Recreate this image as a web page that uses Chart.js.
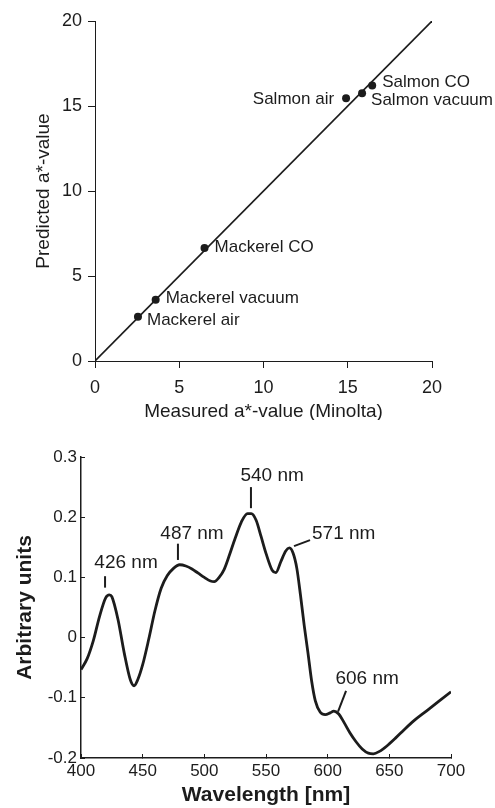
<!DOCTYPE html>
<html>
<head>
<meta charset="utf-8">
<script src="https://cdn.jsdelivr.net/npm/chart.js@4.4.1/dist/chart.umd.min.js"></script>
<style>
body { margin: 0; background: #fff; }
canvas { position: absolute; left: 0; }
#colourChart { top: 0; }
#spectrumChart { top: 420px; }
</style>
</head>
<body>
<canvas id="colourChart" width="495" height="420"></canvas>
<canvas id="spectrumChart" width="495" height="388"></canvas>
<script>
// top chart: measured vs predicted a*-value
var sampleNames = ['Mackerel air', 'Mackerel vacuum', 'Mackerel CO', 'Salmon air', 'Salmon vacuum', 'Salmon CO'];
var measuredA = [2.55, 3.6, 6.5, 14.9, 15.85, 16.45];
var predictedA = [2.6, 3.6, 6.65, 15.45, 15.75, 16.2];
var fitLineX = [0, 20];
var fitLineY = [0, 20];

// bottom chart: spectrum
var wavelength = [400, 405, 410, 415, 420, 423, 425, 430, 435, 440, 443, 446, 450, 455, 460, 465, 470, 475, 480, 485,
  490, 495, 500, 505, 508, 512, 516, 520, 525, 530, 535, 538, 542, 546, 550, 555, 558, 562, 566, 569,
  572, 575, 578, 581, 584, 587, 590, 594, 598, 602, 605, 609, 613, 618, 623, 628, 633, 637, 642, 648,
  655, 662, 670, 680, 690, 700];
var signal = [-0.053, -0.035, -0.005, 0.035, 0.066, 0.071, 0.068, 0.03, -0.025, -0.07, -0.08, -0.07, -0.045, -0.002, 0.045, 0.082, 0.103, 0.115, 0.121, 0.119,
  0.114, 0.107, 0.1, 0.094, 0.093, 0.1, 0.113, 0.135, 0.165, 0.192, 0.206, 0.206, 0.195, 0.168, 0.14, 0.112, 0.108, 0.126, 0.144, 0.149,
  0.14, 0.115, 0.07, 0.02, -0.025, -0.072, -0.105, -0.124, -0.128, -0.125, -0.122, -0.127, -0.14, -0.158, -0.173, -0.185, -0.192, -0.193, -0.189, -0.18,
  -0.167, -0.153, -0.138, -0.122, -0.106, -0.09];
var peakNames = ['426 nm', '487 nm', '540 nm', '571 nm', '606 nm'];

var ink = '#1c1c1c';
var fontFamily = "'Liberation Sans', Arial, sans-serif";

// offsets of the sample names from their points (px)
var nameOffsets = [
  { dx: 9, dy: 4, align: 'left' },
  { dx: 10, dy: -1, align: 'left' },
  { dx: 10, dy: -1, align: 'left' },
  { dx: -12, dy: 1, align: 'right' },
  { dx: 9, dy: 7, align: 'left' },
  { dx: 10, dy: -3, align: 'left' }
];

var pointNames = {
  id: 'pointNames',
  afterDatasetsDraw: function (chart) {
    var ctx = chart.ctx;
    var meta = chart.getDatasetMeta(1);
    ctx.save();
    ctx.fillStyle = ink;
    ctx.font = '17px ' + fontFamily;
    ctx.textBaseline = 'middle';
    meta.data.forEach(function (pt, i) {
      var o = nameOffsets[i];
      ctx.textAlign = o.align;
      ctx.fillText(sampleNames[i], pt.x + o.dx, pt.y + o.dy);
    });
    ctx.restore();
  }
};

// peak markers placed in data units: text position and the little pointer line
var peakMarks = [
  { tx: 436.5, ty: 0.124, align: 'center', line: [419.5, 0.102, 419.5, 0.083] },
  { tx: 490, ty: 0.172, align: 'center', line: [478.6, 0.156, 478.6, 0.129] },
  { tx: 555, ty: 0.268, align: 'center', line: [537.8, 0.25, 537.8, 0.215] },
  { tx: 587.3, ty: 0.172, align: 'left', line: [585.7, 0.162, 572.7, 0.152] },
  { tx: 632, ty: -0.069, align: 'center', line: [614.9, -0.0886, 608.4, -0.123] }
];

var peakLabels = {
  id: 'peakLabels',
  afterDatasetsDraw: function (chart) {
    var ctx = chart.ctx, sx = chart.scales.x, sy = chart.scales.y;
    ctx.save();
    ctx.fillStyle = ink;
    ctx.strokeStyle = ink;
    ctx.lineWidth = 2;
    ctx.font = '19px ' + fontFamily;
    ctx.textBaseline = 'middle';
    peakMarks.forEach(function (m, i) {
      ctx.beginPath();
      ctx.moveTo(sx.getPixelForValue(m.line[0]), sy.getPixelForValue(m.line[1]));
      ctx.lineTo(sx.getPixelForValue(m.line[2]), sy.getPixelForValue(m.line[3]));
      ctx.stroke();
      ctx.textAlign = m.align;
      ctx.fillText(peakNames[i], sx.getPixelForValue(m.tx), sy.getPixelForValue(m.ty));
    });
    ctx.restore();
  }
};

Chart.defaults.font.family = fontFamily;
Chart.defaults.color = ink;

var ctxColour = document.getElementById('colourChart').getContext('2d');
var colourChart = new Chart(ctxColour, {
  type: 'scatter',
  data: {
    datasets: [
      {
        data: fitLineX.map(function (x, i) { return { x: x, y: fitLineY[i] }; }),
        showLine: true,
        borderColor: ink,
        borderWidth: 1.6,
        pointRadius: 0
      },
      {
        data: measuredA.map(function (x, i) { return { x: x, y: predictedA[i] }; }),
        backgroundColor: ink,
        borderColor: ink,
        pointRadius: 4,
        borderWidth: 0
      }
    ]
  },
  options: {
    responsive: false,
    animation: false,
    layout: { padding: { top: 21, right: 63, left: 0, bottom: 0 } },
    plugins: { legend: { display: false }, tooltip: { enabled: false } },
    scales: {
      x: {
        min: 0, max: 20,
        ticks: { stepSize: 5, padding: 9, color: ink, font: { size: 18 } },
        grid: { drawOnChartArea: false, tickLength: 7, tickColor: ink },
        border: { color: ink, width: 1 },
        title: { display: true, text: 'Measured a*-value (Minolta)', color: ink, font: { size: 19 }, padding: { top: 0, bottom: -3 } },
        afterFit: function (s) { s.height = 59; }
      },
      y: {
        min: 0, max: 20,
        ticks: { stepSize: 5, padding: 6, color: ink, font: { size: 18 } },
        grid: { drawOnChartArea: false, tickLength: 7, tickColor: ink },
        border: { color: ink, width: 1 },
        title: { display: true, text: 'Predicted a*-value', color: ink, font: { size: 19 }, padding: { top: 32, bottom: 0 } },
        afterFit: function (s) { s.width = 95; }
      }
    }
  },
  plugins: [pointNames]
});

var ctxSpectrum = document.getElementById('spectrumChart').getContext('2d');
var spectrumChart = new Chart(ctxSpectrum, {
  type: 'scatter',
  data: {
    datasets: [
      {
        data: wavelength.map(function (w, i) { return { x: w, y: signal[i] }; }),
        showLine: true,
        borderColor: ink,
        borderWidth: 2.8,
        pointRadius: 0,
        cubicInterpolationMode: 'monotone'
      }
    ]
  },
  options: {
    responsive: false,
    animation: false,
    layout: { padding: { top: 37, right: 44, left: 0, bottom: 0 } },
    plugins: { legend: { display: false }, tooltip: { enabled: false } },
    scales: {
      x: {
        min: 400, max: 700,
        ticks: { stepSize: 50, padding: 7, color: ink, font: { size: 17 } },
        grid: { drawOnChartArea: false, tickLength: -4, tickColor: ink },
        border: { color: ink, width: 1.5 },
        title: { display: true, text: 'Wavelength [nm]', color: ink, font: { size: 21, weight: 'bold' }, padding: { top: 0, bottom: 0 } },
        afterFit: function (s) { s.height = 50; }
      },
      y: {
        min: -0.2, max: 0.3,
        ticks: {
          stepSize: 0.1, padding: 8, color: ink, font: { size: 17 },
          callback: function (v) { return String(+v.toFixed(1)); }
        },
        grid: { drawOnChartArea: false, tickLength: -4, tickColor: ink },
        border: { color: ink, width: 1.5 },
        title: { display: true, text: 'Arbitrary units', color: ink, font: { size: 21, weight: 'bold' }, padding: { top: 13, bottom: 0 } },
        afterFit: function (s) { s.width = 81; }
      }
    }
  },
  plugins: [peakLabels]
});
</script>
</body>
</html>
